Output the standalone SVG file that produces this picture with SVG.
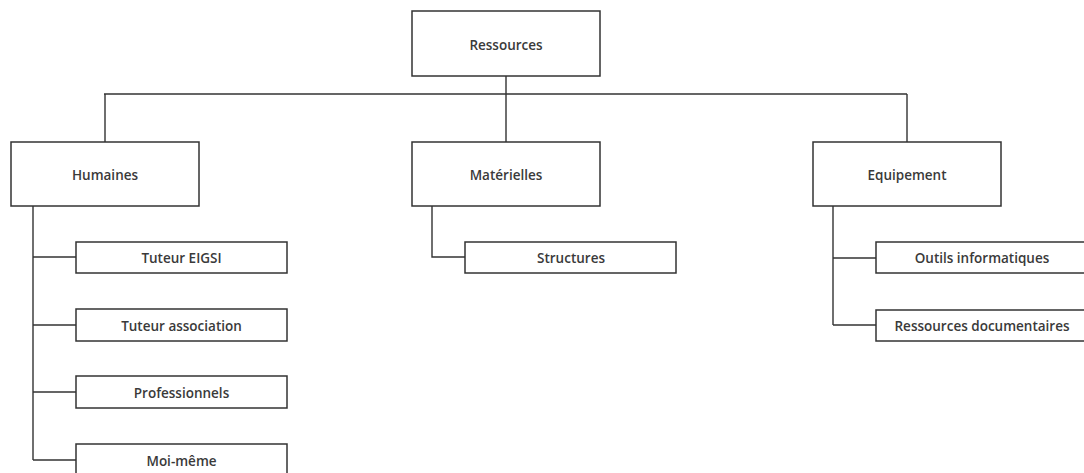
<svg xmlns="http://www.w3.org/2000/svg" width="1084" height="473" viewBox="0 0 1084 473">
<style>
.box{fill:#fff;stroke:#333;stroke-width:1.5}
.ln{fill:none;stroke:#333;stroke-width:1.4}
text{font-family:"Open Sans","Liberation Sans",sans-serif;font-size:13.5px;font-weight:600;fill:#3a3a3a;text-anchor:middle}
</style>
<rect width="1084" height="473" fill="#fff"/>
<g id="connectors">
<path class="ln" d="M506 76V142M104 94H907M105 94V142M907 94V142"/>
<path class="ln" d="M33 206V460M33 257H76M33 325H76M33 392H76M33 460H76"/>
<path class="ln" d="M432 206V257H465"/>
<path class="ln" d="M833 206V325M833 258H876M833 325H876"/>
</g>
<g id="ressources"><rect class="box" x="412" y="11" width="188" height="65"/><text x="506" y="50">Ressources</text></g>
<g id="humaines"><rect class="box" x="11" y="142" width="188" height="64"/><text x="105" y="180">Humaines</text></g>
<g id="materielles"><rect class="box" x="412" y="142" width="188" height="64"/><text x="506" y="180">Matérielles</text></g>
<g id="equipement"><rect class="box" x="813" y="142" width="188" height="64"/><text x="907" y="180">Equipement</text></g>
<g id="tuteur-eigsi"><rect class="box" x="76" y="242" width="211" height="31"/><text x="181.5" y="263">Tuteur EIGSI</text></g>
<g id="tuteur-association"><rect class="box" x="76" y="309" width="211" height="32"/><text x="181.5" y="330.5">Tuteur association</text></g>
<g id="professionnels"><rect class="box" x="76" y="376" width="211" height="32"/><text x="181.5" y="397.5">Professionnels</text></g>
<g id="moi-meme"><rect class="box" x="76" y="444" width="211" height="32"/><text x="181.5" y="465.5">Moi-même</text></g>
<g id="structures"><rect class="box" x="465" y="242" width="211" height="31"/><text x="571" y="263">Structures</text></g>
<g id="outils"><rect class="box" x="876" y="242" width="212" height="31"/><text x="982" y="263">Outils informatiques</text></g>
<g id="ressources-doc"><rect class="box" x="876" y="310" width="212" height="31"/><text x="982" y="331">Ressources documentaires</text></g>
</svg>
